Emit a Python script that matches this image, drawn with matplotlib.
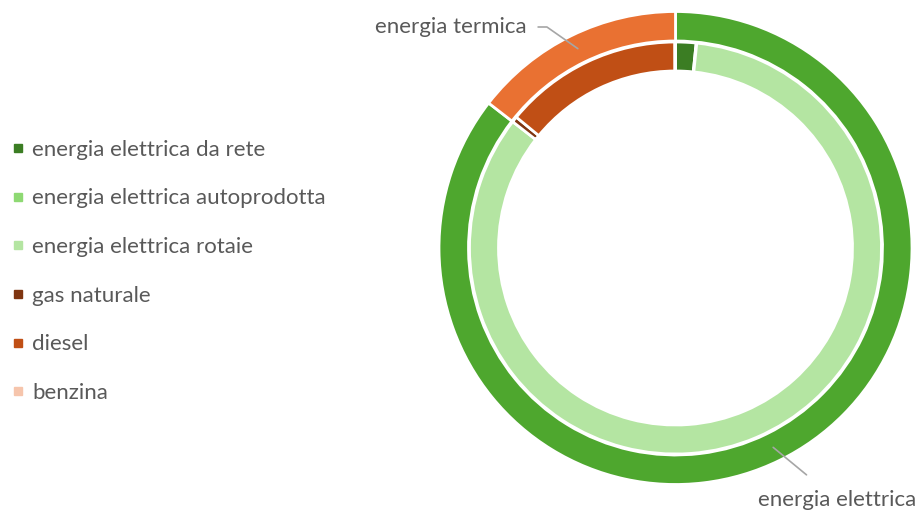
import matplotlib.pyplot as plt
from matplotlib.lines import Line2D
import numpy as np

# outer ring
outer_labels = ["energia elettrica", "energia termica"]
outer_values = [85.5, 14.5]
outer_colors = ["#4EA72E", "#E97132"]

# inner ring
inner_labels = ["energia elettrica da rete", "energia elettrica autoprodotta",
                "energia elettrica rotaie", "gas naturale", "diesel", "benzina"]
inner_values = [1.6, 0.05, 83.85, 0.45, 14.0, 0.05]
inner_colors = ["#3B7D23", "#8ED973", "#B4E5A2", "#7F3510", "#C04F15", "#F6C5AC"]

text_color = "#595959"
plt.rcParams['font.family'] = ['Lato', 'DejaVu Sans']

W, H = 918, 512
fig = plt.figure(figsize=(W / 100, H / 100), dpi=100)
ax = fig.add_axes([0, 0, 1, 1])

cx, cy = 675.5, H - 248
R = 236.5

outer_w, _ = ax.pie(outer_values, colors=outer_colors, radius=R, center=(cx, cy),
                    startangle=90, counterclock=False,
                    wedgeprops=dict(width=29.5, edgecolor="white", linewidth=2))
inner_w, _ = ax.pie(inner_values, colors=inner_colors, radius=R - 30.5, center=(cx, cy),
                    startangle=90, counterclock=False,
                    wedgeprops=dict(width=29, edgecolor="white", linewidth=2))

ax.set_xlim(0, W)
ax.set_ylim(0, H)
ax.set_aspect("equal")
ax.axis("off")

# leader labels at wedge mid-angles
def mid_point(w, r):
    a = np.deg2rad((w.theta1 + w.theta2) / 2)
    return cx + r * np.cos(a), cy + r * np.sin(a)

p = mid_point(outer_w[1], 222)
ax.annotate(outer_labels[1], xy=p, xytext=(527, H - 27), ha="right", va="center",
            fontsize=16, color=text_color,
            arrowprops=dict(arrowstyle="-", color="#A6A6A6", lw=1.2, shrinkA=6, shrinkB=0,
                            connectionstyle="angle,angleA=0,angleB=145,rad=0"))

p = mid_point(outer_w[0], 222)
ax.annotate(outer_labels[0], xy=p, xytext=(837, H - 500), ha="center", va="center",
            fontsize=16, color=text_color,
            arrowprops=dict(arrowstyle="-", color="#A6A6A6", lw=1.2, shrinkA=14, shrinkB=0))

handles = [Line2D([], [], marker="s", linestyle="none", markersize=6,
                  markerfacecolor=c, markeredgecolor=c) for c in inner_colors]
leg = ax.legend(handles, inner_labels, loc="center left", bbox_to_anchor=(0.0, 0.47),
                frameon=False, fontsize=16, labelspacing=1.29, handlelength=0.5,
                handletextpad=0.4, borderaxespad=0.15)
for t in leg.get_texts():
    t.set_color(text_color)

fig.savefig("out.png", dpi=100)
